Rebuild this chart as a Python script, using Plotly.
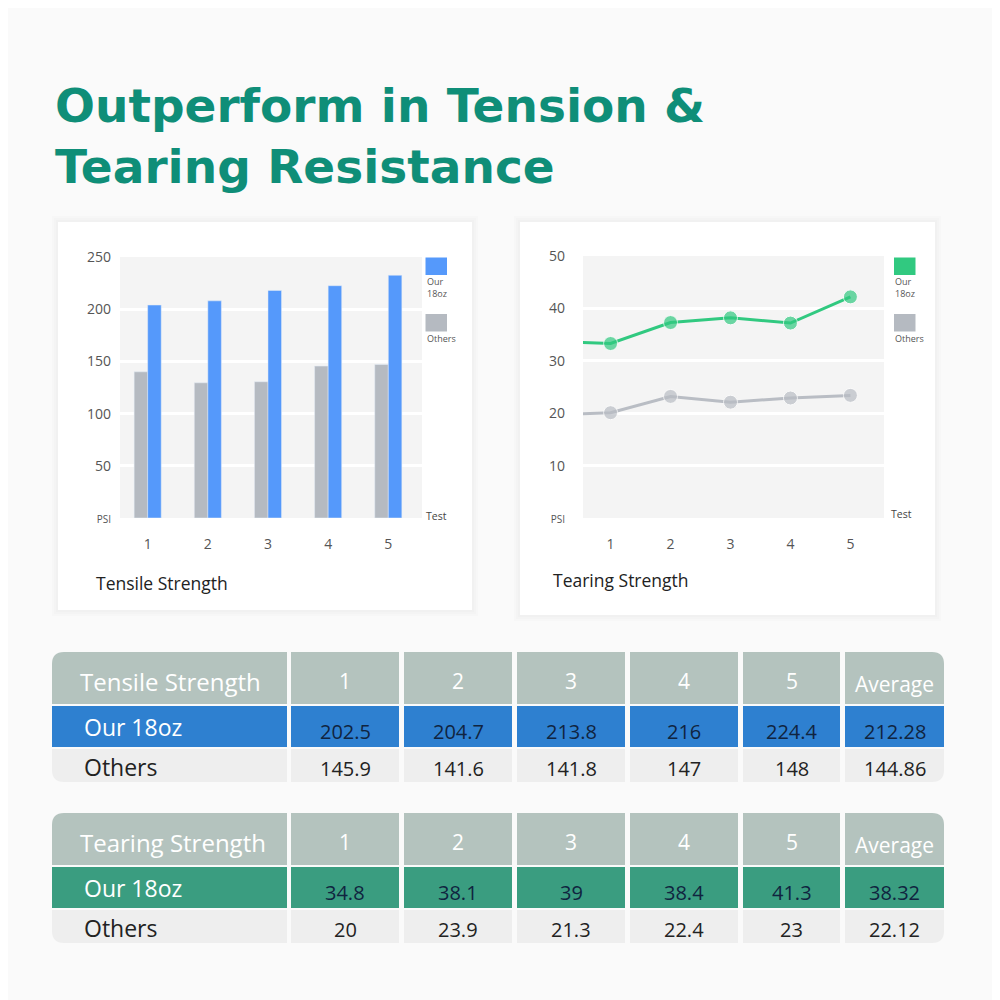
"""Tension & tearing resistance infographic: bar chart, line chart and two tables."""

import plotly.graph_objects as go

# ---- data ----
tests = [1, 2, 3, 4, 5]
tensile_ours = [204, 208, 218, 222.5, 232.5]
tensile_others = [140, 129.5, 130.5, 145.5, 147]
tearing_ours = [33.3, 37.3, 38.2, 37.2, 42.2]
tearing_others = [20.1, 23.2, 22.1, 22.9, 23.4]
# lines enter from the left edge of the plot
lead_x = 0.5
tearing_ours_lead = 33.5
tearing_others_lead = 19.9

tensile_ticks = [0, 50, 100, 150, 200, 250]
tearing_ticks = [0, 10, 20, 30, 40, 50]

table_headers = ["1", "2", "3", "4", "5", "Average"]
tensile_ours_tbl = ["202.5", "204.7", "213.8", "216", "224.4", "212.28"]
tensile_others_tbl = ["145.9", "141.6", "141.8", "147", "148", "144.86"]
tearing_ours_tbl = ["34.8", "38.1", "39", "38.4", "41.3", "38.32"]
tearing_others_tbl = ["20", "23.9", "21.3", "22.4", "23", "22.12"]

BLUE = "#5599fb"
GRAY = "#b5bac1"
GREEN = "#31c980"
LINE_GRAY = "#b9bdc4"
TEAL = "#0f8e78"
FONT = "Open Sans"

# the page body has an 8px margin, so page pixels are shifted back by it
OFF = 8


def px(x):
    return (x - OFF) / 1000


def py(y):
    return 1 - (y - OFF) / 1000


def rect(x0, y0, x1, y1, color, **kw):
    return dict(type="rect", xref="paper", yref="paper", x0=px(x0), x1=px(x1),
                y0=py(y1), y1=py(y0), fillcolor=color, line_width=0, layer="below", **kw)


def rrect(x0, y0, x1, y1, color, tl=0, tr=0, br=0, bl=0):
    def p(x, y):
        return f"{px(x):.5f},{py(y):.5f}"
    d = (f"M{p(x0 + tl, y0)} L{p(x1 - tr, y0)} Q{p(x1, y0)} {p(x1, y0 + tr)} "
         f"L{p(x1, y1 - br)} Q{p(x1, y1)} {p(x1 - br, y1)} "
         f"L{p(x0 + bl, y1)} Q{p(x0, y1)} {p(x0, y1 - bl)} "
         f"L{p(x0, y0 + tl)} Q{p(x0, y0)} {p(x0 + tl, y0)} Z")
    return dict(type="path", xref="paper", yref="paper", path=d, fillcolor=color,
                line_width=0, layer="below")


def text(x, y, s, size, color, xanchor="left", weight=None, family=FONT):
    font = dict(size=size, color=color, family=family)
    if weight:
        font["weight"] = weight
    return dict(x=px(x), y=py(y), xref="paper", yref="paper", text=s, showarrow=False,
                xanchor=xanchor, yanchor="middle", font=font, borderpad=0, align="left")


fig = go.Figure()

fig.add_trace(go.Bar(x=tests, y=tensile_others, marker_color=GRAY, xaxis="x", yaxis="y",
                     name="Others"))
fig.add_trace(go.Bar(x=tests, y=tensile_ours, marker_color=BLUE, xaxis="x", yaxis="y",
                     name="Our 18oz"))

fig.add_trace(go.Scatter(x=[lead_x] + tests, y=[tearing_others_lead] + tearing_others,
                         mode="lines+markers", xaxis="x2", yaxis="y2",
                         line=dict(color=LINE_GRAY, width=3),
                         marker=dict(size=[0] + [14] * 5, color=LINE_GRAY)))
fig.add_trace(go.Scatter(x=[lead_x] + tests, y=[tearing_ours_lead] + tearing_ours,
                         mode="lines+markers", xaxis="x2", yaxis="y2",
                         line=dict(color=GREEN, width=3),
                         marker=dict(size=[0] + [14] * 5, color=GREEN)))

shapes = []
annotations = []

# cards with a faint shadow
for (x0, y0, x1, y1) in [(58, 222, 472, 610), (520, 222, 935, 615)]:
    for g in (6, 4, 2):
        shapes.append(rect(x0 - g, y0 - g, x1 + g, y1 + g, "rgba(0,0,0,0.012)"))
    shapes.append(rect(x0, y0, x1, y1, "#ffffff"))

# plot area backgrounds
shapes.append(rect(120, 257, 422, 518, "#f4f4f4"))
shapes.append(rect(583, 256, 884, 518, "#f4f4f4"))

# legend swatches and labels
for lx, main in [(425.5, BLUE), (894, GREEN)]:
    shapes.append(rect(lx, 257.5, lx + 21.5, 275, main))
    shapes.append(rect(lx, 314, lx + 21.5, 331.5, GRAY))
    annotations.append(text(lx, 287, "Our<br>18oz", 9, "#555"))
    annotations.append(text(lx, 339, "Others", 9, "#555"))

annotations.append(text(425, 516, "Test", 10.5, "#444"))
annotations.append(text(890, 514, "Test", 10.5, "#444"))
annotations.append(text(95, 583, "Tensile Strength", 17.5, "#222", weight=500))
annotations.append(text(552, 580, "Tearing Strength", 17.5, "#222", weight=500))

# title
annotations.append(text(54, 136, "Outperform in Tension &<br>Tearing Resistance", 47, TEAL,
                        weight=700, family="DejaVu Sans"))

# tables
cols = [(52, 287), (291, 399), (404, 512), (517, 625), (630, 738), (743, 840), (845, 944)]
tables = [
    ("Tensile Strength", 652, tensile_ours_tbl, tensile_others_tbl, "#2e80d0"),
    ("Tearing Strength", 813, tearing_ours_tbl, tearing_others_tbl, "#3a9d80"),
]
R = 12
for title, top, ours, others, row_color in tables:
    rows = [(top, top + 52, "#b4c3be"), (top + 54, top + 95, row_color),
            (top + 97, top + 130, "#eeeeee")]
    for ri, (y0, y1, c) in enumerate(rows):
        for ci, (x0, x1) in enumerate(cols):
            tl = R if (ri == 0 and ci == 0) else 0
            tr = R if (ri == 0 and ci == len(cols) - 1) else 0
            bl = R if (ri == 2 and ci == 0) else 0
            br = R if (ri == 2 and ci == len(cols) - 1) else 0
            shapes.append(rrect(x0, y0, x1, y1, c, tl=tl, tr=tr, br=br, bl=bl))
    annotations.append(text(79, top + 29, title, 24, "#ffffff"))
    annotations.append(text(83, top + 75, "Our 18oz", 23, "#ffffff"))
    annotations.append(text(83, top + 115, "Others", 23, "#222"))
    for ci, (x0, x1) in enumerate(cols[1:]):
        cx = (x0 + x1) / 2
        hy = top + 32 if table_headers[ci] == "Average" else top + 29
        annotations.append(text(cx, hy, table_headers[ci], 21, "#ffffff", xanchor="center"))
        annotations.append(text(cx, top + 79, ours[ci], 20, "#10243f", xanchor="center"))
        annotations.append(text(cx, top + 116, others[ci], 20, "#222", xanchor="center"))

tick_font = dict(size=14, color="#555", family=FONT)
psi = '<span style="font-size:10px">PSI</span>'

common_x = dict(range=[0.54, 5.56], tickvals=tests, showgrid=False, zeroline=False,
                showline=False, ticks="", tickfont=tick_font, ticklabelstandoff=16,
                automargin=False, fixedrange=True)
common_y = dict(showgrid=True, gridcolor="#ffffff", gridwidth=2.5, zeroline=False,
                showline=False, ticks="", tickfont=tick_font, automargin=False,
                fixedrange=True)

fig.update_layout(
    width=1000, height=1000,
    margin=dict(l=0, r=0, t=0, b=0, pad=0, autoexpand=False),
    paper_bgcolor="#fafafa", plot_bgcolor="rgba(0,0,0,0)",
    showlegend=False, barmode="group", bargap=0.55, bargroupgap=0,
    font=dict(family=FONT),
    shapes=shapes, annotations=annotations,
    xaxis=dict(domain=[px(120), px(422)], anchor="y", **common_x),
    yaxis=dict(domain=[py(518), py(257)], range=[0, 250], tickvals=tensile_ticks,
               ticktext=[psi] + [str(v) for v in tensile_ticks[1:]],
               ticklabelstandoff=8, anchor="x", **common_y),
    xaxis2=dict(domain=[px(583), px(884)], anchor="y2", **common_x),
    yaxis2=dict(domain=[py(518), py(256)], range=[0, 50], tickvals=tearing_ticks,
                ticktext=[psi] + [str(v) for v in tearing_ticks[1:]],
                ticklabelstandoff=17, anchor="x2", **common_y),
)

fig.write_html("out.html")
